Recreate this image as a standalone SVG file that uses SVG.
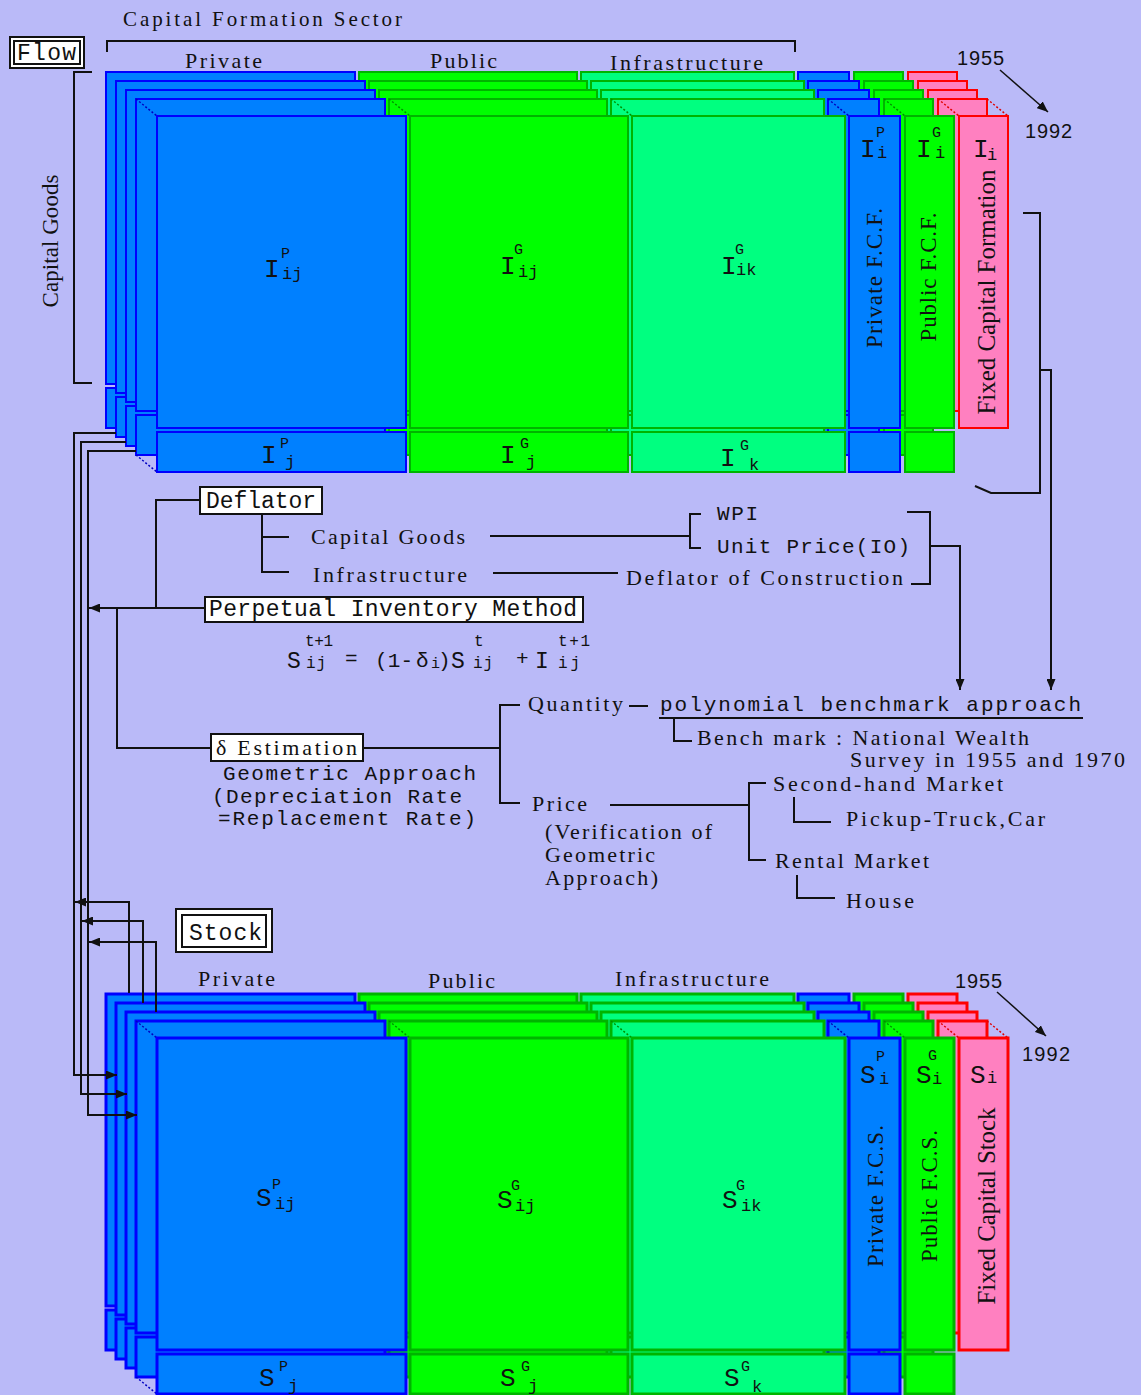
<svg xmlns="http://www.w3.org/2000/svg" xmlns:xlink="http://www.w3.org/1999/xlink" width="1141" height="1395" viewBox="0 0 1141 1395">
<style>
.b{fill:#0080ff;stroke:#0000ff}
.g{fill:#00ff00;stroke:#00b400}
.lg{fill:#00ff80;stroke:#00b400}
.p{fill:#ff80c0;stroke:#ff0000}
.m{font-family:"Liberation Mono","DejaVu Sans Mono",monospace;fill:#111}
.s{font-family:"Liberation Serif","DejaVu Serif",serif;fill:#111}
.ss{font-family:"Liberation Sans","DejaVu Sans",sans-serif;fill:#111}
.big{font-size:26px}
.sup{font-size:15px}
.sub{font-size:17px}
.box{fill:#fff;stroke:#111;stroke-width:2}
.dot{fill:none;stroke-width:1.5;stroke-dasharray:2 2}
</style>
<defs>
<marker id="arr" markerWidth="11" markerHeight="9" refX="11" refY="4.5" orient="auto" markerUnits="userSpaceOnUse"><path d="M0,0 L11,4.5 L0,9 z" fill="#111"/></marker>
<g id="layer">
<rect class="b" x="157" y="116" width="249" height="312"/>
<rect class="b" x="157" y="432" width="249" height="40"/>
<rect class="g" x="410" y="116" width="218" height="312"/>
<rect class="g" x="410" y="432" width="218" height="40"/>
<rect class="lg" x="632" y="116" width="213" height="312"/>
<rect class="lg" x="632" y="432" width="213" height="40"/>
<rect class="b" x="849" y="116" width="51" height="312"/>
<rect class="b" x="849" y="432" width="51" height="40"/>
<rect class="g" x="905" y="116" width="49" height="312"/>
<rect class="g" x="905" y="432" width="49" height="40"/>
<rect class="p" x="959" y="116" width="49" height="312"/>
</g>
<g id="dots">
<path class="dot" stroke="#0000c0" d="M136,99 L157,116 M136,455 L157,472 M828,99 L849,116"/>
<path class="dot" stroke="#009000" d="M389,99 L410,116 M611,99 L632,116 M884,99 L905,116"/>
<path class="dot" stroke="#e00000" d="M938,99 L959,116 M987,99 L1008,116"/>
</g>
</defs>
<rect width="1141" height="1395" fill="#babaf8"/>

<g id="flow-panel" style="stroke-width:2">
<use xlink:href="#layer" transform="translate(-51,-44)"/>
<use xlink:href="#layer" transform="translate(-41,-35)"/>
<use xlink:href="#layer" transform="translate(-31,-26)"/>
<use xlink:href="#layer" transform="translate(-21,-17)"/>
<use xlink:href="#dots"/>
<use xlink:href="#layer"/>
</g>

<g id="flow-labels">
<text class="s" x="123" y="26" font-size="21" textLength="279" lengthAdjust="spacing">Capital Formation Sector</text>
<text class="s" x="185" y="68" font-size="22" textLength="77" lengthAdjust="spacing">Private</text>
<text class="s" x="430" y="68" font-size="22" textLength="67" lengthAdjust="spacing">Public</text>
<text class="s" x="610" y="70" font-size="22" textLength="153" lengthAdjust="spacing">Infrastructure</text>
<text class="ss" x="957" y="65" font-size="20" textLength="47" lengthAdjust="spacing">1955</text>
<text class="ss" x="1025" y="138" font-size="20" textLength="47" lengthAdjust="spacing">1992</text>
<text class="s" font-size="23" text-anchor="middle" transform="translate(58,241) rotate(-90)" textLength="133" lengthAdjust="spacing">Capital Goods</text>
<text class="m big" x="264" y="277">I</text><text class="m sup" x="281" y="258">P</text><text class="m sub" x="282" y="279">ij</text>
<text class="m big" x="500" y="274">I</text><text class="m sup" x="514" y="254">G</text><text class="m sub" x="518" y="277">ij</text>
<text class="m big" x="721" y="274">I</text><text class="m sup" x="735" y="254">G</text><text class="m sub" x="736" y="275">ik</text>
<text class="m big" x="860" y="157">I</text><text class="m sup" x="876" y="137">P</text><text class="m sub" x="877" y="158">i</text>
<text class="m big" x="916" y="157">I</text><text class="m sup" x="932" y="137">G</text><text class="m sub" x="935" y="158">i</text>
<text class="m big" x="973" y="157">I</text><text class="m sub" x="987" y="160">i</text>
<text class="s" font-size="23" text-anchor="middle" transform="translate(882,278) rotate(-90)" textLength="140" lengthAdjust="spacing">Private F.C.F.</text>
<text class="s" font-size="23" text-anchor="middle" transform="translate(936,277) rotate(-90)" textLength="129" lengthAdjust="spacing">Public F.C.F.</text>
<text class="s" font-size="25" text-anchor="middle" transform="translate(995,292) rotate(-90)" textLength="245" lengthAdjust="spacing">Fixed Capital Formation</text>
<text class="m big" x="261" y="463">I</text><text class="m sup" x="280" y="448">P</text><text class="m sub" x="285" y="467">j</text>
<text class="m big" x="500" y="463">I</text><text class="m sup" x="520" y="448">G</text><text class="m sub" x="526" y="467">j</text>
<text class="m big" x="720" y="466">I</text><text class="m sup" x="740" y="450">G</text><text class="m sub" x="749" y="470">k</text>
</g>

<g id="flow-tag">
<rect class="box" x="10" y="37" width="74" height="31"/>
<rect class="box" x="14" y="41" width="66" height="23"/>
<text class="m" x="17" y="60" font-size="23" textLength="59" lengthAdjust="spacing">Flow</text>
</g>

<g id="stock-panel" style="stroke-width:3">
<use xlink:href="#layer" transform="translate(-51,878)"/>
<use xlink:href="#layer" transform="translate(-41,887)"/>
<use xlink:href="#layer" transform="translate(-31,896)"/>
<use xlink:href="#layer" transform="translate(-21,905)"/>
<use xlink:href="#dots" transform="translate(0,922)"/>
<use xlink:href="#layer" transform="translate(0,922)"/>
</g>

<g id="stock-labels">
<text class="s" x="198" y="986" font-size="22" textLength="77" lengthAdjust="spacing">Private</text>
<text class="s" x="428" y="988" font-size="22" textLength="67" lengthAdjust="spacing">Public</text>
<text class="s" x="615" y="986" font-size="22" textLength="154" lengthAdjust="spacing">Infrastructure</text>
<text class="ss" x="955" y="988" font-size="20" textLength="47" lengthAdjust="spacing">1955</text>
<text class="ss" x="1022" y="1061" font-size="20" textLength="48" lengthAdjust="spacing">1992</text>
<text class="m big" x="256" y="1206">S</text><text class="m sup" x="272" y="1189">P</text><text class="m sub" x="275" y="1209">ij</text>
<text class="m big" x="497" y="1208">S</text><text class="m sup" x="511" y="1190">G</text><text class="m sub" x="515" y="1211">ij</text>
<text class="m big" x="722" y="1208">S</text><text class="m sup" x="736" y="1190">G</text><text class="m sub" x="741" y="1211">ik</text>
<text class="m big" x="860" y="1083">S</text><text class="m sup" x="876" y="1061">P</text><text class="m sub" x="879" y="1084">i</text>
<text class="m big" x="916" y="1083">S</text><text class="m sup" x="928" y="1060">G</text><text class="m sub" x="932" y="1084">i</text>
<text class="m big" x="970" y="1083">S</text><text class="m sub" x="987" y="1083">i</text>
<text class="s" font-size="23" text-anchor="middle" transform="translate(883,1196) rotate(-90)" textLength="142" lengthAdjust="spacing">Private F.C.S.</text>
<text class="s" font-size="23" text-anchor="middle" transform="translate(937,1196) rotate(-90)" textLength="132" lengthAdjust="spacing">Public F.C.S.</text>
<text class="s" font-size="25" text-anchor="middle" transform="translate(995,1206) rotate(-90)" textLength="197" lengthAdjust="spacing">Fixed Capital Stock</text>
<text class="m big" x="259" y="1386">S</text><text class="m sup" x="279" y="1371">P</text><text class="m sub" x="288" y="1391">j</text>
<text class="m big" x="500" y="1386">S</text><text class="m sup" x="521" y="1371">G</text><text class="m sub" x="528" y="1391">j</text>
<text class="m big" x="724" y="1386">S</text><text class="m sup" x="741" y="1371">G</text><text class="m sub" x="752" y="1392">k</text>
</g>

<g id="stock-tag">
<rect class="box" x="176" y="909" width="96" height="43"/>
<rect class="box" x="182" y="915" width="84" height="32"/>
<text class="m" x="189" y="940" font-size="23" textLength="73" lengthAdjust="spacing">Stock</text>
</g>

<g id="deflator">
<rect class="box" x="200" y="487" width="122" height="27"/>
<text class="m" x="206" y="508" font-size="23" textLength="110" lengthAdjust="spacing">Deflator</text>
</g>
<g id="pim">
<rect class="box" x="205" y="597" width="378" height="25"/>
<text class="m" x="209" y="616" font-size="23" textLength="368" lengthAdjust="spacing">Perpetual Inventory Method</text>
</g>
<g id="delta">
<rect class="box" x="211" y="734" width="152" height="27"/>
<text class="s" x="216" y="755" font-size="22" textLength="141" lengthAdjust="spacing">δ Estimation</text>
</g>

<g id="formula" class="m">
<text x="287" y="668" font-size="23">S</text>
<text x="305" y="646" font-size="16" textLength="28" lengthAdjust="spacing">t+1</text>
<text x="306" y="668" font-size="16" textLength="20" lengthAdjust="spacing">ij</text>
<text x="345" y="665" font-size="21">=</text>
<text x="375" y="667" font-size="21" textLength="38" lengthAdjust="spacing">(1-</text>
<text x="416" y="667" font-size="21">δ</text>
<text x="431" y="668" font-size="15">i</text>
<text x="438" y="667" font-size="21">)</text>
<text x="451" y="668" font-size="23">S</text>
<text x="474" y="646" font-size="16">t</text>
<text x="473" y="668" font-size="16" textLength="20" lengthAdjust="spacing">ij</text>
<text x="516" y="665" font-size="21">+</text>
<text x="535" y="668" font-size="23">I</text>
<text x="558" y="646" font-size="16" textLength="32" lengthAdjust="spacing">t+1</text>
<text x="558" y="668" font-size="16" textLength="22" lengthAdjust="spacing">ij</text>
</g>

<g id="deflator-items">
<text class="s" x="311" y="544" font-size="22" textLength="154" lengthAdjust="spacing">Capital Goods</text>
<text class="s" x="313" y="582" font-size="22" textLength="154" lengthAdjust="spacing">Infrastructure</text>
<text class="m" x="717" y="520" font-size="21" textLength="41" lengthAdjust="spacing">WPI</text>
<text class="m" x="717" y="553" font-size="21" textLength="193" lengthAdjust="spacing">Unit Price(IO)</text>
<text class="s" x="626" y="585" font-size="22" textLength="277" lengthAdjust="spacing">Deflator of Construction</text>
</g>

<g id="estimation-items">
<text class="m" x="223" y="780" font-size="21" textLength="253" lengthAdjust="spacing">Geometric Approach</text>
<text class="m" x="212" y="803" font-size="21" textLength="250" lengthAdjust="spacing">(Depreciation Rate</text>
<text class="m" x="218" y="825" font-size="21" textLength="258" lengthAdjust="spacing">=Replacement Rate)</text>
<text class="s" x="528" y="711" font-size="22" textLength="95" lengthAdjust="spacing">Quantity</text>
<text class="m" x="660" y="711" font-size="21" textLength="421" lengthAdjust="spacing">polynomial benchmark approach</text>
<text class="s" x="697" y="745" font-size="22" textLength="332" lengthAdjust="spacing">Bench mark : National Wealth</text>
<text class="s" x="850" y="767" font-size="22" textLength="275" lengthAdjust="spacing">Survey in 1955 and 1970</text>
<text class="s" x="532" y="811" font-size="22" textLength="55" lengthAdjust="spacing">Price</text>
<text class="s" x="545" y="839" font-size="22" textLength="167" lengthAdjust="spacing">(Verification of</text>
<text class="s" x="545" y="862" font-size="22" textLength="110" lengthAdjust="spacing">Geometric</text>
<text class="s" x="545" y="885" font-size="22" textLength="113" lengthAdjust="spacing">Approach)</text>
<text class="s" x="773" y="791" font-size="22" textLength="230" lengthAdjust="spacing">Second-hand Market</text>
<text class="s" x="846" y="826" font-size="22" textLength="199" lengthAdjust="spacing">Pickup-Truck,Car</text>
<text class="s" x="775" y="868" font-size="22" textLength="154" lengthAdjust="spacing">Rental Market</text>
<text class="s" x="846" y="908" font-size="22" textLength="68" lengthAdjust="spacing">House</text>
</g>

<g id="connectors" fill="none" stroke="#111" stroke-width="2">
<path d="M107,52 V41 H795 V52"/>
<path d="M92,72 H74 V383 H92"/>
<path d="M1023,213 H1040 V493 H991 L975,486"/>
<path d="M1040,370 H1051 V690" marker-end="url(#arr)"/>
<path d="M1000,70 L1048,112" stroke-width="1.5" marker-end="url(#arr)"/>
<path d="M997,992 L1046,1036" stroke-width="1.5" marker-end="url(#arr)"/>
<path d="M200,500 H156 V608"/>
<path d="M205,608 H89" marker-end="url(#arr)"/>
<path d="M262,514 V572 H289 M262,537 H289"/>
<path d="M490,536 H690 M701,514 H690 V548 H701"/>
<path d="M493,573 H618"/>
<path d="M907,512 H930 V584 H911"/>
<path d="M930,546 H960 V690" marker-end="url(#arr)"/>
<path d="M117,608 V748 H211"/>
<path d="M363,748 H500 M520,705 H500 V803 H520"/>
<path d="M629,706 H648"/>
<path d="M659,718 H1083"/>
<path d="M674,718 V741 H692"/>
<path d="M610,805 H749 M766,783 H749 V860 H766"/>
<path d="M794,797 V822 H831"/>
<path d="M797,875 V898 H835"/>
<path d="M116,433 H74 V1075 H117" marker-end="url(#arr)"/>
<path d="M126,442 H81 V1094 H127" marker-end="url(#arr)"/>
<path d="M136,451 H88 V1115 H137" marker-end="url(#arr)"/>
<path d="M129,993 V902 H75" marker-end="url(#arr)"/>
<path d="M143,1003 V921 H82" marker-end="url(#arr)"/>
<path d="M156,1012 V942 H89" marker-end="url(#arr)"/>
</g>
</svg>
